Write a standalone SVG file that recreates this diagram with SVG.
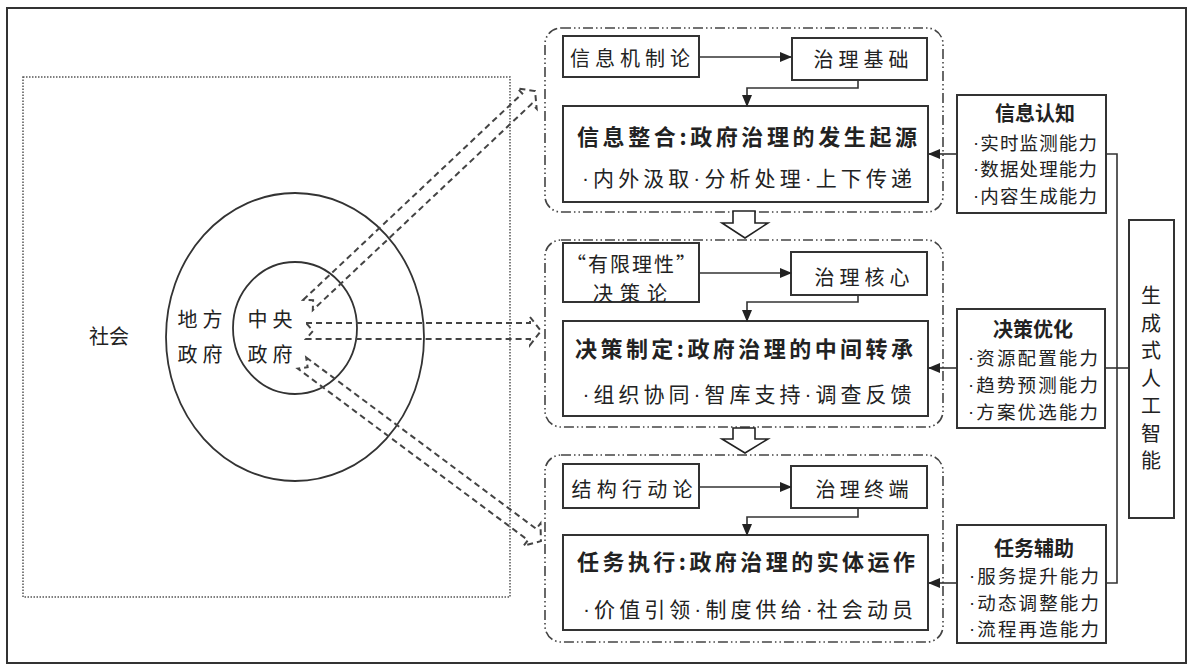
<svg xmlns="http://www.w3.org/2000/svg" width="1191" height="666" viewBox="0 0 1191 666">
<defs>
<marker id="ah" markerUnits="userSpaceOnUse" markerWidth="12" markerHeight="10" refX="11" refY="5" orient="auto">
<path d="M0,0 L12,5 L0,10 Z" fill="#222"/>
</marker>
<style>
text{font-family:"Noto Sans CJK SC","Noto Sans",sans-serif;fill:#222}
.d{font-family:"Liberation Sans",sans-serif}
.t{font-size:20px}
.r{font-size:18.5px}
.tt{font-size:22px;font-weight:bold}
.st{font-size:21px}
.rb{font-size:20px;font-weight:bold}
.box{fill:#fff;stroke:#333;stroke-width:2}
.grp{fill:none;stroke:#444;stroke-width:1.6;stroke-dasharray:10 3 1.5 3 1.5 3}
.con{fill:none;stroke:#333;stroke-width:1.6}
.hol{fill:none;stroke:#444;stroke-width:2;stroke-dasharray:6 4}
.blk{fill:#fff;stroke:#222;stroke-width:1.6}
</style>
</defs>
<rect x="7" y="8" width="1179" height="655" fill="#fff" stroke="#333" stroke-width="2"/>

<g id="society">
<rect x="23" y="77" width="487" height="520" fill="none" stroke="#555" stroke-width="1.5" stroke-dasharray="1.5 1.5"/>
<text class="t" x="109" y="335" text-anchor="middle" dominant-baseline="central">社会</text>
</g>
<g id="local-gov">
<ellipse cx="295" cy="337" rx="129" ry="144" fill="none" stroke="#333" stroke-width="1.8"/>
<text class="t" x="200" y="318" text-anchor="middle" dominant-baseline="central" textLength="45">地方</text>
<text class="t" x="200" y="353" text-anchor="middle" dominant-baseline="central" textLength="45">政府</text>
</g>
<g id="central-gov">
<ellipse cx="295" cy="328" rx="62" ry="66" fill="none" stroke="#333" stroke-width="1.8"/>
<text class="t" x="270" y="318" text-anchor="middle" dominant-baseline="central" textLength="45">中央</text>
<text class="t" x="270" y="353" text-anchor="middle" dominant-baseline="central" textLength="45">政府</text>
</g>

<g id="group1">
<rect class="grp" x="545" y="28" width="398" height="184" rx="16"/>
<g id="n1a"><rect class="box" x="563" y="36" width="136" height="41"/>
<text class="t" x="630" y="57" text-anchor="middle" dominant-baseline="central" textLength="120">信息机制论</text></g>
<g id="n1b"><rect class="box" x="792" y="38" width="135" height="42"/>
<text class="t" x="861" y="58" text-anchor="middle" dominant-baseline="central" textLength="95">治理基础</text></g>
<g id="n1c"><rect class="box" x="563" y="106" width="365" height="96"/>
<text class="tt" x="747" y="135" text-anchor="middle" dominant-baseline="central" textLength="340">信息整合:政府治理的发生起源</text>
<text class="st" x="747" y="177" text-anchor="middle" dominant-baseline="central" textLength="330"><tspan class="d">·</tspan>内外汲取<tspan class="d">·</tspan>分析处理<tspan class="d">·</tspan>上下传递</text></g>
</g>

<g id="group2">
<rect class="grp" x="545" y="240" width="398" height="187" rx="16"/>
<g id="n2a"><rect class="box" x="563" y="243" width="136" height="59"/>
<text class="t" x="631" y="263" text-anchor="middle" dominant-baseline="central" textLength="130">“有限理性”</text>
<text class="t" x="630" y="292" text-anchor="middle" dominant-baseline="central" textLength="74">决策论</text></g>
<g id="n2b"><rect class="box" x="791" y="252" width="136" height="43"/>
<text class="t" x="862" y="276" text-anchor="middle" dominant-baseline="central" textLength="95">治理核心</text></g>
<g id="n2c"><rect class="box" x="563" y="321" width="365" height="95"/>
<text class="tt" x="744" y="347" text-anchor="middle" dominant-baseline="central" textLength="338">决策制定:政府治理的中间转承</text>
<text class="st" x="747" y="393" text-anchor="middle" dominant-baseline="central" textLength="329"><tspan class="d">·</tspan>组织协同<tspan class="d">·</tspan>智库支持<tspan class="d">·</tspan>调查反馈</text></g>
</g>

<g id="group3">
<rect class="grp" x="545" y="455" width="398" height="187" rx="16"/>
<g id="n3a"><rect class="box" x="563" y="464" width="136" height="44"/>
<text class="t" x="632" y="488" text-anchor="middle" dominant-baseline="central" textLength="121">结构行动论</text></g>
<g id="n3b"><rect class="box" x="791" y="466" width="136" height="42"/>
<text class="t" x="862" y="488" text-anchor="middle" dominant-baseline="central" textLength="93">治理终端</text></g>
<g id="n3c"><rect class="box" x="563" y="535" width="365" height="95"/>
<text class="tt" x="746" y="560" text-anchor="middle" dominant-baseline="central" textLength="338">任务执行:政府治理的实体运作</text>
<text class="st" x="748" y="608" text-anchor="middle" dominant-baseline="central" textLength="330"><tspan class="d">·</tspan>价值引领<tspan class="d">·</tspan>制度供给<tspan class="d">·</tspan>社会动员</text></g>
</g>

<g id="cap1"><rect class="box" x="957" y="95" width="149" height="118"/>
<text class="rb" x="1035" y="112" text-anchor="middle" dominant-baseline="central">信息认知</text>
<text class="r" x="1035" y="142" text-anchor="middle" dominant-baseline="central" textLength="124"><tspan class="d">·</tspan>实时监测能力</text>
<text class="r" x="1035" y="168" text-anchor="middle" dominant-baseline="central" textLength="124"><tspan class="d">·</tspan>数据处理能力</text>
<text class="r" x="1035" y="195" text-anchor="middle" dominant-baseline="central" textLength="124"><tspan class="d">·</tspan>内容生成能力</text></g>
<g id="cap2"><rect class="box" x="957" y="309" width="148" height="119"/>
<text class="rb" x="1033" y="328" text-anchor="middle" dominant-baseline="central">决策优化</text>
<text class="r" x="1033" y="357" text-anchor="middle" dominant-baseline="central" textLength="130"><tspan class="d">·</tspan>资源配置能力</text>
<text class="r" x="1033" y="384" text-anchor="middle" dominant-baseline="central" textLength="130"><tspan class="d">·</tspan>趋势预测能力</text>
<text class="r" x="1033" y="411" text-anchor="middle" dominant-baseline="central" textLength="130"><tspan class="d">·</tspan>方案优选能力</text></g>
<g id="cap3"><rect class="box" x="957" y="525" width="149" height="118"/>
<text class="rb" x="1034" y="547" text-anchor="middle" dominant-baseline="central">任务辅助</text>
<text class="r" x="1034" y="575" text-anchor="middle" dominant-baseline="central" textLength="130"><tspan class="d">·</tspan>服务提升能力</text>
<text class="r" x="1034" y="602" text-anchor="middle" dominant-baseline="central" textLength="130"><tspan class="d">·</tspan>动态调整能力</text>
<text class="r" x="1034" y="628" text-anchor="middle" dominant-baseline="central" textLength="130"><tspan class="d">·</tspan>流程再造能力</text></g>
<g id="genai"><rect class="box" x="1129" y="220" width="45" height="298"/>
<text class="t" text-anchor="middle" dominant-baseline="central">
<tspan x="1151" y="294">生</tspan><tspan x="1151" y="322">成</tspan><tspan x="1151" y="349">式</tspan><tspan x="1151" y="377">人</tspan><tspan x="1151" y="404">工</tspan><tspan x="1151" y="432">智</tspan><tspan x="1151" y="459">能</tspan>
</text></g>

<g id="connectors">
<path class="con" d="M699,57 H791" marker-end="url(#ah)"/>
<path class="con" d="M858,80 V88 H747 V106" marker-end="url(#ah)"/>
<path class="con" d="M699,273 H791" marker-end="url(#ah)"/>
<path class="con" d="M858,295 V302 H747 V321" marker-end="url(#ah)"/>
<path class="con" d="M699,487 H791" marker-end="url(#ah)"/>
<path class="con" d="M858,508 V517 H747 V535" marker-end="url(#ah)"/>
<path class="con" d="M957,154 H929" marker-end="url(#ah)"/>
<path class="con" d="M957,368 H929" marker-end="url(#ah)"/>
<path class="con" d="M957,583 H929" marker-end="url(#ah)"/>
<path class="con" d="M1106,154 H1117 V583 H1106"/>
<path class="con" d="M1105,368 H1129"/>
<polygon class="blk" points="733,211 755,211 755,223 768,223 745,238 722,223 733,223"/>
<polygon class="blk" points="733,428 755,428 755,439 768,439 745,453 722,439 733,439"/>
<g transform="translate(308,305) rotate(-43.3)"><path class="hol" d="M0,-7 H301 V-14 L312,0 L301,14 V7 H0 L7,0 Z"/></g>
<g transform="translate(306,331)"><path class="hol" d="M0,-8 H224 V-14 L235,0 L224,14 V8 H0 L7,0 Z"/></g>
<g transform="translate(302,363) rotate(36.7)"><path class="hol" d="M0,-7 H287 V-14 L298,0 L287,14 V7 H0 L7,0 Z"/></g>
</g>
</svg>
